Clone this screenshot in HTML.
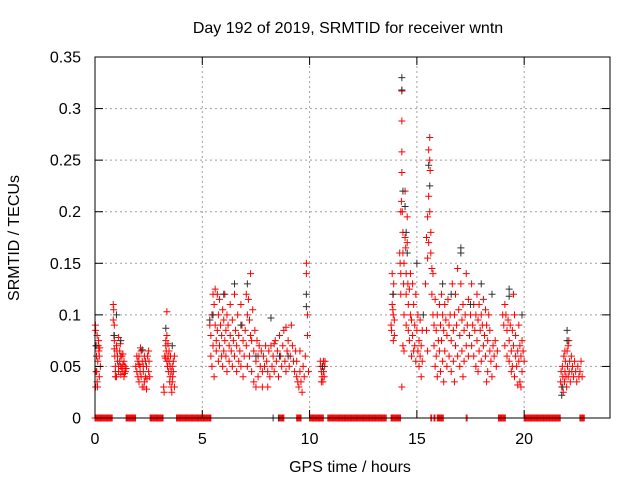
<!DOCTYPE html>
<html><head><meta charset="utf-8"><style>
body{margin:0;background:#fff}
svg{display:block;font-family:"Liberation Sans",sans-serif;font-size:16px}
</style></head><body>
<svg id="chart" width="640" height="480" viewBox="0 0 640 480">
<rect width="640" height="480" fill="#fff"/>
<text x="348" y="33" text-anchor="middle">Day 192 of 2019, SRMTID for receiver wntn</text>
<text transform="translate(19,238) rotate(-90)" text-anchor="middle">SRMTID / TECUs</text>
<text x="350" y="472" text-anchor="middle">GPS time / hours</text>
<g id="grid"></g>
<g id="marks"></g>
<rect x="95" y="57" width="515" height="361" fill="none" stroke="#000" stroke-width="1"/>
<g id="ticks"></g>
</svg>
<script>
const xTicks=[0,5,10,15,20];
const yTicks=[0,0.05,0.1,0.15,0.2,0.25,0.3,0.35];
const yTickLabels=["0","0.05","0.1","0.15","0.2","0.25","0.3","0.35"];
const zeroIntervals=[[0,0.8],[1.45,1.9],[2.57,3.2],[3.8,5.4],[8.6,8.8],[9.4,9.6],[10.0,10.65],[10.85,13.6],[13.8,14.25],[15.65,15.7],[15.8,15.85],[15.95,16.25],[17.3,17.35],[18.8,19.15],[20,21.7],[22.6,22.8]];
const redPoints=[
[0.02,.09],[0.03,.085],[0.05,.07],[0.07,.06],[0.08,.045],[0.1,.035],[0.12,.03],[0.05,.045],[0.15,.07],[0.18,.065],[0.2,.06],[0.22,.068],[0.25,.05],[0.1,.08],[0.13,.055],[0.2,.04],[0.03,.03],[0.17,.075],
[0.85,.11],[0.87,.105],[0.85,.095],[0.9,.09],[0.88,.08],[0.9,.075],[0.92,.06],[0.95,.05],[0.95,.045],[1.0,.07],[1.02,.065],[1.05,.06],[1.05,.055],[1.1,.05],[1.1,.045],[1.15,.065],[1.15,.055],[1.2,.05],[1.2,.042],[1.25,.06],[1.25,.048],[1.3,.045],[1.3,.052],[1.35,.04],[1.35,.055],[1.4,.05],[1.42,.045],[0.95,.04],[1.0,.04],[1.1,.078],[1.2,.06],[1.3,.062],[1.38,.043],[1.45,.048],[0.9,.067],[1.18,.072],
[1.9,.05],[1.95,.045],[2.0,.055],[2.0,.04],[2.05,.06],[2.05,.035],[2.1,.05],[2.1,.045],[2.15,.065],[2.15,.04],[2.2,.055],[2.2,.03],[2.25,.05],[2.25,.045],[2.3,.06],[2.3,.035],[2.35,.055],[2.35,.04],[2.4,.05],[2.4,.028],[2.45,.06],[2.5,.045],[2.5,.065],[2.55,.04],[1.95,.06],[2.12,.068],[2.28,.03],[2.42,.038],[2.52,.055],[2.05,.052],
[3.2,.03],[3.22,.025],[3.25,.06],[3.3,.075],[3.3,.07],[3.32,.065],[3.35,.08],[3.35,.055],[3.38,.05],[3.4,.06],[3.42,.045],[3.45,.055],[3.45,.065],[3.5,.05],[3.5,.04],[3.52,.06],[3.55,.045],[3.55,.03],[3.58,.025],[3.6,.05],[3.6,.035],[3.65,.045],[3.65,.055],[3.7,.06],[3.7,.03],[3.35,.103],[3.28,.058],[3.48,.035],[3.62,.04],[3.4,.072],
[5.35,.09],[5.4,.08],[5.4,.06],[5.45,.1],[5.45,.05],[5.5,.12],[5.5,.07],[5.55,.11],[5.55,.04],[5.6,.125],[5.6,.09],[5.65,.075],[5.65,.065],[5.7,.12],[5.7,.085],[5.75,.1],[5.75,.055],[5.8,.115],[5.8,.07],[5.85,.09],[5.9,.08],[5.9,.06],[5.95,.105],[5.95,.05],[6.0,.095],[6.0,.065],
[6.05,.12],[6.05,.075],[6.1,.085],[6.1,.06],[6.15,.1],[6.15,.045],[6.2,.09],[6.25,.07],[6.25,.055],[6.3,.11],[6.3,.08],[6.35,.065],[6.4,.095],[6.4,.05],[6.45,.075],[6.5,.12],[6.5,.06],[6.55,.085],[6.6,.07],[6.6,.045],[6.65,.1],[6.7,.08],[6.7,.055],[6.75,.065],[6.8,.11],[6.8,.05],[6.85,.09],[6.9,.075],[6.9,.04],[6.95,.06],[7.0,.085],
[7.05,.12],[7.05,.07],[7.1,.1],[7.1,.05],[7.15,.115],[7.2,.095],[7.2,.06],[7.25,.14],[7.25,.08],[7.3,.075],[7.3,.045],[7.35,.105],[7.4,.065],[7.4,.035],[7.45,.085],[7.5,.055],[7.5,.03],[7.55,.075],[7.6,.06],[7.6,.04],[7.65,.07],[7.7,.05],[7.75,.065],[7.8,.045],[7.8,.03],[7.85,.06],[7.9,.05],[7.95,.07],
[8.0,.055],[8.05,.045],[8.1,.065],[8.15,.04],[8.2,.07],[8.25,.05],[8.3,.06],[8.35,.045],[8.4,.075],[8.45,.055],[8.5,.065],[8.55,.04],[8.6,.08],[8.65,.06],[8.7,.05],[8.75,.07],[8.8,.085],[8.85,.055],[8.9,.045],[8.95,.065],[9.0,.075],[9.05,.05],[9.1,.06],[9.15,.09],[9.2,.07],[9.25,.055],[9.3,.045],[9.35,.065],[9.4,.04],[9.45,.035],[9.5,.03],[9.55,.045],[9.6,.035],[9.65,.025],[9.7,.05],[9.75,.04],[9.8,.06],[9.85,.14],[9.85,.15],[9.9,.1],[9.9,.08],[9.95,.045],[9.55,.065],[9.4,.055],[8.9,.088],[8.35,.072],[8.05,.03],
[10.5,.055],[10.52,.05],[10.55,.045],[10.58,.04],[10.6,.05],[10.62,.035],[10.65,.045],[10.68,.04],[10.7,.05],[10.72,.055],[10.55,.035],[10.65,.055],
[13.8,.09],[13.82,.085],[13.85,.11],[13.85,.14],[13.88,.12],[13.9,.1],[13.9,.075],[13.92,.13],[13.95,.095],[13.95,.08],[13.88,.105],
[14.2,.16],[14.22,.15],[14.25,.14],[14.25,.12],[14.3,.317],[14.3,.288],[14.3,.258],[14.3,.238],[14.28,.21],[14.25,.2],[14.32,.2],[14.35,.18],[14.35,.16],[14.38,.13],[14.4,.15],[14.4,.1],[14.45,.22],[14.45,.175],[14.48,.165],[14.5,.14],[14.5,.12],[14.5,.09],[14.3,.03],[14.35,.07],[14.4,.065],[14.55,.195],[14.55,.17],[14.58,.13],[14.6,.11],[14.6,.085],[14.65,.125],[14.65,.075],[14.7,.14],[14.7,.1],[14.75,.095],[14.75,.06],[14.8,.13],[14.8,.08],[14.85,.11],[14.85,.065],[14.9,.09],[14.9,.07],[14.95,.12],[14.95,.055],[15.0,.085],[15.05,.1],[15.05,.065],[15.1,.075],[15.1,.05],[15.15,.095],[15.15,.06],[15.2,.07],[15.2,.04],[15.25,.085],[15.25,.055],
[15.4,.13],[15.45,.175],[15.5,.195],[15.55,.215],[15.55,.26],[15.6,.272],[15.6,.25],[15.62,.24],[15.5,.155],[15.55,.17],[15.6,.2],[15.65,.18],[15.65,.16],[15.7,.145],[15.7,.12],[15.75,.14],[15.75,.1],[15.8,.09],[15.8,.07],[15.85,.115],[15.85,.05],[15.9,.085],[15.9,.06],[15.95,.1],[15.95,.04],[16.0,.075],[15.45,.085],[15.5,.065],
[16.05,.11],[16.05,.065],[16.1,.09],[16.1,.045],[16.15,.12],[16.15,.075],[16.2,.1],[16.2,.055],[16.25,.085],[16.3,.11],[16.3,.065],[16.35,.095],[16.4,.08],[16.4,.05],[16.45,.115],[16.5,.09],[16.5,.06],[16.55,.1],[16.6,.075],[16.6,.045],[16.65,.13],[16.7,.085],[16.7,.055],[16.75,.1],[16.8,.12],[16.8,.07],[16.85,.09],[16.9,.145],[16.9,.06],[16.95,.105],[17.0,.08],[17.0,.05],[17.05,.13],[17.1,.095],[17.1,.065],[17.15,.11],[17.2,.085],[17.2,.055],[17.25,.1],[17.3,.14],[17.3,.07],[17.35,.09],[17.4,.115],[17.4,.06],[17.45,.08],[17.5,.1],[16.75,.035],[17.15,.04],[16.25,.035],
[17.55,.13],[17.55,.07],[17.6,.09],[17.65,.11],[17.65,.06],[17.7,.085],[17.75,.1],[17.75,.05],[17.8,.12],[17.8,.075],[17.85,.095],[17.9,.065],[17.9,.11],[17.95,.085],[18.0,.1],[18.0,.055],[18.05,.09],[18.1,.115],[18.1,.07],[18.15,.08],[18.2,.105],[18.2,.06],[18.25,.09],[18.3,.075],[18.3,.045],[18.35,.1],[18.4,.065],[18.4,.085],[18.45,.055],[18.5,.04],[18.55,.07],[18.6,.06],[18.65,.075],[18.7,.05],[18.75,.065],[17.85,.045],[18.25,.035],
[19.0,.1],[19.05,.09],[19.1,.11],[19.1,.07],[19.15,.1],[19.2,.085],[19.2,.06],[19.25,.095],[19.3,.075],[19.3,.055],[19.35,.09],[19.4,.065],[19.45,.085],[19.45,.05],[19.5,.12],[19.5,.07],[19.55,.1],[19.6,.06],[19.6,.08],[19.65,.05],[19.7,.065],[19.75,.09],[19.75,.055],[19.8,.07],[19.85,.06],[19.9,.075],[19.9,.045],[19.95,.065],[20.0,.055],[19.4,.045],[19.55,.04],[19.8,.035],[19.7,.032],[19.85,.03],
[21.7,.035],[21.72,.045],[21.75,.03],[21.78,.05],[21.8,.04],[21.82,.025],[21.85,.06],[21.88,.035],[21.9,.045],[21.92,.055],[21.95,.04],[21.98,.03],[22.0,.065],[22.02,.05],[22.05,.04],[22.08,.075],[22.1,.045],[22.12,.055],[22.15,.035],[22.2,.06],[22.22,.045],[22.25,.05],[22.3,.04],[22.35,.055],[22.4,.045],[22.45,.035],[22.5,.05],[22.55,.04],[22.6,.045],[22.65,.055],[22.7,.04],[21.9,.065],[22.05,.07]
];
const blackPoints=[[14.3,.33],[14.3,.318],[14.35,.22],[14.45,.205],[15.6,.225],[15.55,.245],[17.05,.165],[17.05,.16],[19.3,.125],[19.3,.118],[9.85,.12],[9.85,.108],[8.2,.097],[7.1,.13],[6.5,.13],[6.0,.12],[5.5,.1],[5.35,.095],[3.3,.087],[1.0,.1],[0.9,.08],[1.2,.075],[0.05,.07],[2.2,.066],[3.6,.07],[10.6,.05],[13.9,.12],[14.5,.18],[14.55,.16],[15.0,.15],[16.2,.13],[18.0,.13],[18.5,.12],[19.9,.1],[22.0,.085],[22.0,.075],[21.8,.03],[21.75,.022],[8.6,.06],[7.5,.06],[9.0,.06],[6.8,.09],[17.5,.11],[16.6,.12],[15.3,.1],[8.3,0],[8.55,0]];

const NS="http://www.w3.org/2000/svg";
const X0=95,X1=610,Y0=418,Y1=57;
function xs(h){return X0+(h/24)*(X1-X0);}
function ys(v){return Y0-(v/0.35)*(Y0-Y1);}
function el(tag,attrs,parent){const e=document.createElementNS(NS,tag);for(const k in attrs)e.setAttribute(k,attrs[k]);parent.appendChild(e);return e;}
const grid=document.getElementById('grid'),ticks=document.getElementById('ticks'),marks=document.getElementById('marks');
yTicks.forEach((v,i)=>{
  const y=ys(v);
  if(i>0&&i<yTicks.length-1){const g=el('line',{x1:X0,x2:X1,y1:y,y2:y,stroke:'#a0a0a0','stroke-dasharray':'2,3'},grid);
  
  }
  el('line',{x1:X0,x2:X0+8,y1:y,y2:y,stroke:'#000'},ticks);
  el('line',{x1:X1-8,x2:X1,y1:y,y2:y,stroke:'#000'},ticks);
  const t=el('text',{x:X0-14,y:y+5.5,'text-anchor':'end'},ticks);
  t.textContent=yTickLabels[i];
  
  
});
xTicks.forEach(h=>{
  const x=xs(h);
  if(h>0){const g=el('line',{x1:x,x2:x,y1:Y0,y2:Y1,stroke:'#a0a0a0','stroke-dasharray':'2,3'},grid);
  
  }
  el('line',{x1:x,x2:x,y1:Y0,y2:Y0-8,stroke:'#000'},ticks);
  el('line',{x1:x,x2:x,y1:Y1,y2:Y1+8,stroke:'#000'},ticks);
  const t=el('text',{x:x,y:Y0+26,'text-anchor':'middle'},ticks);
  t.textContent=String(h);
  
  
});
function plus(h,v,col){
  const x=xs(h),y=ys(v);
  const p=el('path',{d:`M${x-3.5} ${y}H${x+3.5}M${x} ${y-3.5}V${y+3.5}`,stroke:col,'stroke-width':1,fill:'none'},marks);
  
  
}
zeroIntervals.forEach(([a,b])=>{for(let h=a;h<=b+1e-9;h+=0.04)plus(h,0,'#ff0000');});
redPoints.forEach(([h,v])=>plus(h,v,'#ff0000'));
blackPoints.forEach(([h,v])=>plus(h,v,'#303030'));
</script>
</body></html>
